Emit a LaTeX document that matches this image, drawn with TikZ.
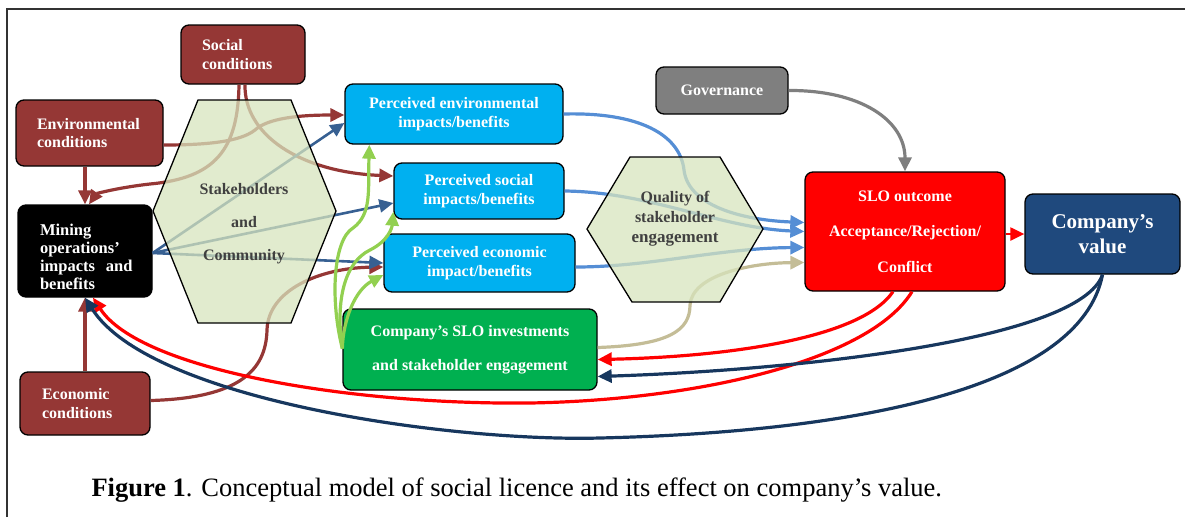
\documentclass[tikz,border=0pt]{standalone}
\usepackage{fontspec}
\setmainfont{Liberation Serif}
\usetikzlibrary{arrows.meta}
\definecolor{brick}{HTML}{953735}
\definecolor{skyfill}{HTML}{00B0F0}
\definecolor{leaf}{HTML}{00B050}
\definecolor{govgray}{HTML}{7F7F7F}
\definecolor{navy}{HTML}{1F497D}
\definecolor{navyline}{HTML}{17375E}
\definecolor{steel}{HTML}{376092}
\definecolor{softblue}{HTML}{558ED5}
\definecolor{lime}{HTML}{92D050}
\definecolor{khaki}{HTML}{C4BD97}
\definecolor{hexfill}{HTML}{D7E4BD}
\definecolor{hextext}{HTML}{404040}

\begin{document}
\begin{tikzpicture}[x=1pt,y=-1pt,
	box/.style={draw=black, line width=1.3pt, rounded corners=8pt, text=white, font=\fontsize{16}{18.5}\selectfont\bfseries, inner sep=0pt},
	condbox/.style={box, fill=brick, align=left},
	percbox/.style={box, fill=skyfill, align=center},
	hexagon/.style={draw=black, line width=1.3pt, fill=hexfill, fill opacity=0.75},
	hexlabel/.style={text=hextext, font=\fontsize{16}{20}\selectfont\bfseries, align=center},
	link/.style={line width=3.2pt, -{Triangle[length=14pt,width=13pt]}}]
	\useasboundingbox (0,0) rectangle (1185,517);
	\draw[line width=1.2pt, black!80] (7,517) -- (7,9) -- (1185,9);

	\node[condbox, minimum width=124pt, minimum height=59pt, text width=82pt] (soc) at (243,54.5) {Social\\conditions};
	\node[condbox, minimum width=147pt, minimum height=66pt, text width=105pt] (env) at (89.5,133) {Environmental\\conditions};
	\node[box, fill=black, align=left, minimum width=134pt, minimum height=92pt, text width=90pt, font=\fontsize{16.5}{18}\selectfont\bfseries] (mine) at (85,251) {\rule{0pt}{24pt}Mining\\operations’\\impacts~ and\\benefits};
	\node[condbox, minimum width=130pt, minimum height=63pt, text width=86pt] (econ) at (85,403.5) {Economic\\conditions};

	\node[percbox, minimum width=218pt, minimum height=60pt] (penv) at (454,114) {Perceived environmental\\impacts/benefits};
	\node[percbox, minimum width=170pt, minimum height=56pt] (psoc) at (479,191) {Perceived social\\impacts/benefits};
	\node[percbox, minimum width=191pt, minimum height=58pt] (peco) at (479.5,263) {Perceived economic\\impact/benefits};
	\node[box, fill=leaf, align=center, minimum width=254pt, minimum height=81pt] (inv) at (470,349.5) {Company’s SLO investments\\[15pt]and stakeholder engagement};

	\node[box, fill=govgray, align=center, minimum width=132pt, minimum height=47pt] (gov) at (722,90.5) {Governance};
	\node[box, fill=red, align=center, minimum width=200pt, minimum height=119pt] (slo) at (905,231.5) {SLO outcome\\[17pt]Acceptance/Rejection/\\[17pt]Conflict};
	\node[box, fill=navy, align=center, minimum width=155pt, minimum height=80pt, font=\fontsize{21}{25}\selectfont\bfseries] (val) at (1102.5,234) {Company’s\\value};

	\draw[link, brick] (mine.north |- env.south) -- (mine.north);
	\draw[link, brick] (econ.north) -- (mine.south);
	\draw[link, brick] ([xshift=-4pt]soc.south) .. controls (238,150) and (215,178) .. (150,184) .. controls (115,188) and (96,194) .. ([xshift=4pt]mine.north);
	\draw[link, brick] ([xshift=2pt]soc.south) .. controls (244,135) and (300,172) .. ([yshift=15pt]psoc.west);
	\draw[link, brick] ([yshift=-12pt]env.east) .. controls (205,145) and (240,142) .. (255,130) .. controls (268,118) and (300,115) .. ([yshift=-1pt]penv.west);
	\draw[link, brick] ([yshift=3pt]econ.east) .. controls (240,398) and (266,370) .. (267,330) .. controls (268,290) and (320,268) .. ([yshift=-4pt]peco.west);

	\draw[link, steel, line width=2.6pt] ([yshift=-2pt]mine.east) -- ([yshift=-9pt]penv.west);
	\draw[link, steel, line width=2.6pt] ([yshift=-2pt]mine.east) -- ([yshift=-12pt]psoc.west);
	\draw[link, steel, line width=2.6pt] ([yshift=-2pt]mine.east) -- (peco.west);

	\draw[link, lime] ([yshift=1pt]inv.west) .. controls (330,300) and (333,240) .. (353,228) .. controls (372,214) and (368,190) .. ([xshift=25pt]penv.south west);
	\draw[link, lime] ([yshift=1pt]inv.west) .. controls (335,300) and (345,262) .. (370,250) .. controls (388,241) and (392,228) .. ([yshift=8pt]psoc.south west);
	\draw[link, lime] ([yshift=1pt]inv.west) .. controls (343,320) and (355,290) .. ([yshift=-12pt]peco.west);

	\draw[link, softblue] (penv.east) .. controls (640,112) and (680,135) .. (684,170) .. controls (688,205) and (740,220) .. ([yshift=9pt]slo.west);
	\draw[link, softblue] (psoc.east) .. controls (650,192) and (720,228) .. (slo.west);
	\draw[link, softblue] ([yshift=-4pt]peco.east) .. controls (650,267) and (720,248) .. ([yshift=-16pt]slo.west);
	\draw[link, khaki] ([yshift=2pt]inv.east) .. controls (670,345) and (690,330) .. (690,305) .. controls (692,275) and (750,263) .. ([yshift=-31pt]slo.west);
	\draw[link, govgray] (gov.east) .. controls (860,90) and (905,120) .. (slo.north);
	\draw[link, red, line width=2.2pt] (slo.east |- val.west) -- (val.west);

	\draw[link, red] ([xshift=-12pt]slo.south) .. controls (860,340) and (720,357) .. ([yshift=-10pt]inv.east);
	\draw[link, red] ([xshift=7pt]slo.south) .. controls (870,360) and (700,400) .. (530,403) .. controls (350,405) and (140,370) .. ([xshift=8pt]mine.south);
	\draw[link, navyline] (val.south) .. controls (1080,340) and (800,370) .. ([yshift=-27pt]inv.east);
	\draw[link, navyline] (val.south) .. controls (1080,390) and (850,432) .. (600,438) .. controls (450,442) and (150,400) .. (mine.south);

	\draw[hexagon] (198,100) -- (291,100) -- (336,211) -- (291,323) -- (198,323) -- (153,211) -- cycle;
	\node[hexlabel] (stake) at (244,224) {Stakeholders\\[13pt]and\\[13pt]Community};
	\draw[hexagon] (630,157) -- (720,157) -- (763,229) -- (720,302) -- (632,302) -- (587,229) -- cycle;
	\node[hexlabel] (quality) at (675,219) {Quality of\\stakeholder\\{\fontsize{17}{20}\selectfont engagement}};

	\node[anchor=west, font=\fontsize{26.5}{30}\selectfont] (caption) at (88,490) {\textbf{Figure 1}. Conceptual model of social licence and its effect on company’s value.};
\end{tikzpicture}
\end{document}
